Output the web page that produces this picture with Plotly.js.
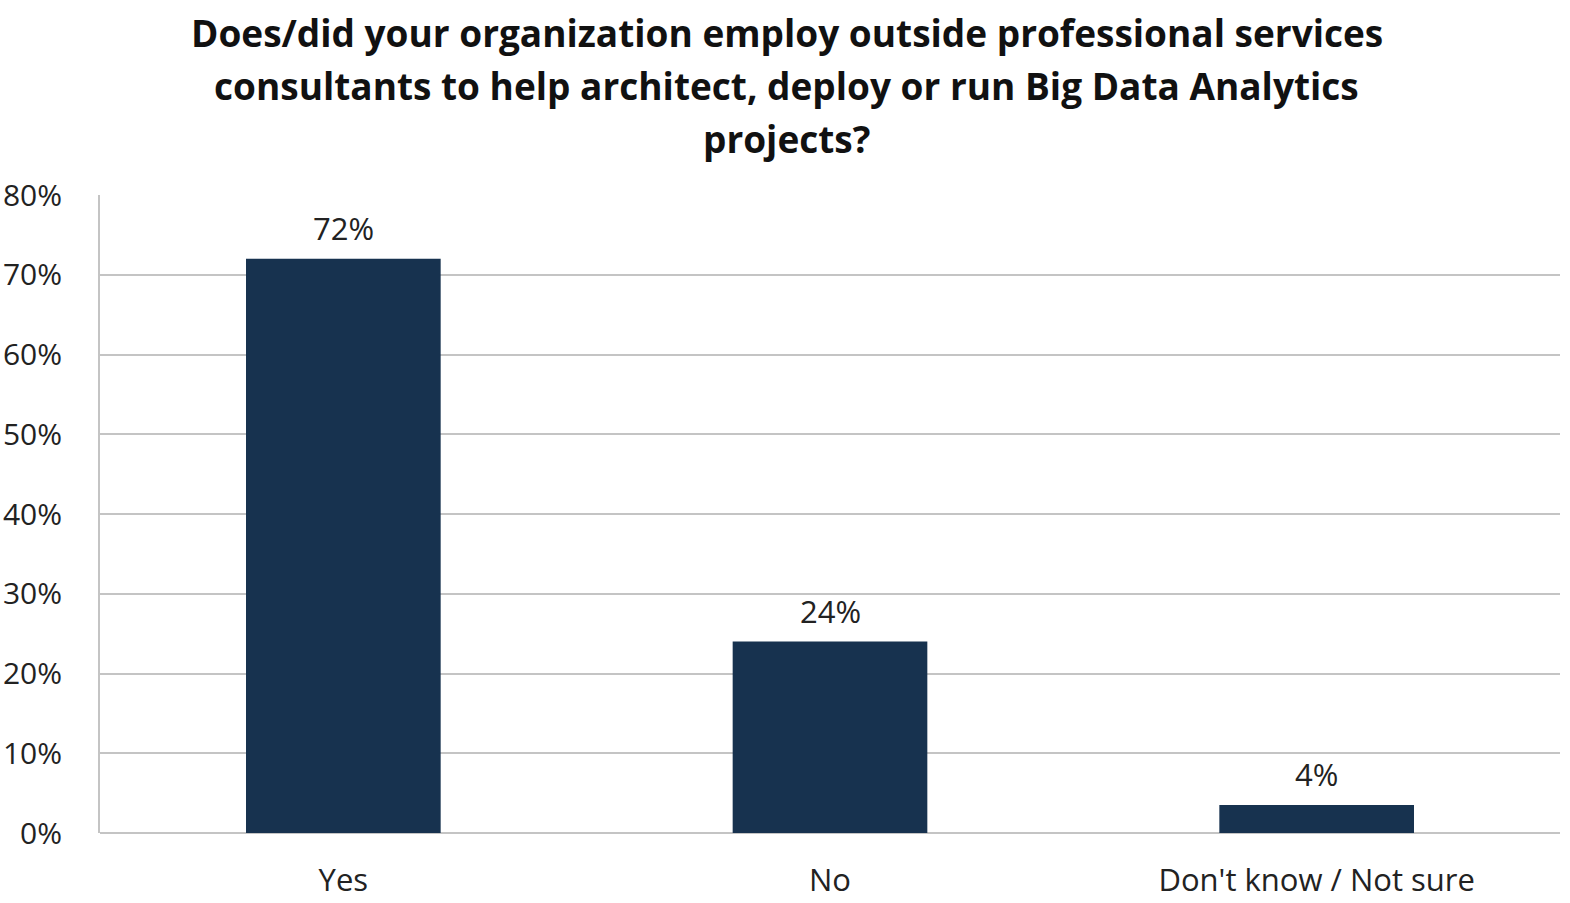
<!DOCTYPE html>
<html>
<head>
<meta charset="utf-8">
<script src="https://cdn.plot.ly/plotly-3.0.1.min.js"></script>
<style>
  html, body { margin: 0; padding: 0; background: #fff; }
  #chart { width: 1570px; height: 903px; }
</style>
</head>
<body>
<div id="chart"></div>
<script>
var categories = ['Yes', 'No', "Don't know / Not sure"];
var shares = [72, 24, 3.5];
var shareLabels = ['72%', '24%', '4%'];
var yTicks = [0, 10, 20, 30, 40, 50, 60, 70, 80];
var yTickText = ['0%', '10%', '20%', '30%', '40%', '50%', '60%', '70%', '80%'];
var titleLines = [
    'Does/did your organization employ outside professional services',
    'consultants to help architect, deploy or run Big Data Analytics',
    'projects?'
];

var font = 'Open Sans, Lato, sans-serif';

var trace = {
    x: categories,
    y: shares,
    type: 'bar',
    marker: { color: '#17324f' },
    hoverinfo: 'none'
};

var notes = [];
for (var i = 0; i < categories.length; i++) {
    notes.push({
        x: categories[i],
        y: shares[i],
        text: shareLabels[i],
        showarrow: false,
        yanchor: 'bottom',
        yshift: 8,
        font: { size: 31, color: '#222' }
    });
}

// title lines as annotations above the plot, 53px apart like the reference
for (var j = 0; j < titleLines.length; j++) {
    notes.push({
        xref: 'paper',
        yref: 'paper',
        x: 0.4705,
        y: 1,
        yshift: 163 - j * 53,
        xanchor: 'center',
        yanchor: 'middle',
        showarrow: false,
        text: '<b>' + titleLines[j] + '</b>',
        font: { size: 37, color: '#111' }
    });
}

var layout = {
    width: 1570,
    height: 903,
    margin: { l: 100, r: 10, t: 195, b: 70 },
    paper_bgcolor: '#fff',
    plot_bgcolor: '#fff',
    font: { family: font, color: '#222' },
    bargap: 0.6,
    showlegend: false,
    xaxis: {
        showgrid: false,
        showline: false,
        ticks: '',
        ticklabelstandoff: 26,
        tickfont: { size: 31, color: '#222' }
    },
    yaxis: {
        range: [0, 80],
        tickvals: yTicks,
        ticktext: yTickText,
        showgrid: true,
        gridcolor: '#c4c4c4',
        gridwidth: 2,
        zeroline: true,
        zerolinecolor: '#c4c4c4',
        zerolinewidth: 2,
        showline: true,
        linecolor: '#c4c4c4',
        linewidth: 2,
        ticks: '',
        ticklabelstandoff: 30,
        tickfont: { size: 30, color: '#222' },
        fixedrange: true
    },
    annotations: notes
};

Plotly.newPlot('chart', [trace], layout, { displayModeBar: false, staticPlot: true });
</script>
</body>
</html>
